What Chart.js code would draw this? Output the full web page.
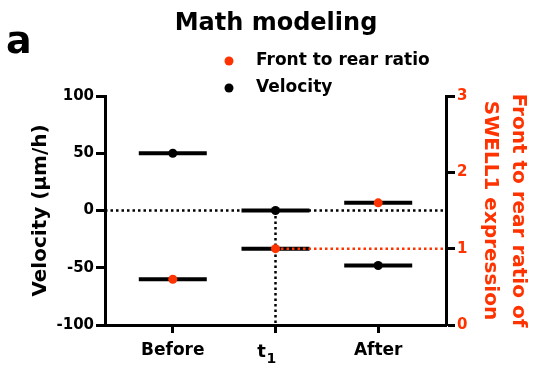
<!DOCTYPE html>
<html>
<head>
<meta charset="utf-8">
<script src="https://cdn.jsdelivr.net/npm/chart.js@4"></script>
<style>
  html, body { margin: 0; padding: 0; background: #fff; }
</style>
</head>
<body>
<canvas id="chart" width="533" height="369"></canvas>
<script>
"use strict";

// Data ("t_1" = t with subscript 1)
const categories = ["Before", "t_1", "After"];
const velocity = [50, 0, -48];          // um/h, left axis
const ratio = [0.6, 1.0, 1.6];          // front to rear ratio, right axis
const velocityTicks = [-100, -50, 0, 50, 100];
const ratioTicks = [0, 1, 2, 3];
const seriesNames = ["Front to rear ratio", "Velocity"];

// Reference (dotted) lines
const refVelocity = 0;
const refRatio = 1;
const refCategory = 1;

const RED = "#ff3300";
const FONT = "'DejaVu Sans', sans-serif";
const X_MIN = -0.66, X_MAX = 2.66;

const pts = (arr) => arr.map((v, i) => ({ x: i, y: v }));

// title, panel letter, legend and subscripted tick labels
const decorations = {
  id: "decorations",
  afterDraw(chart) {
    const ctx = chart.ctx;
    ctx.save();
    ctx.fillStyle = "#000";
    ctx.textBaseline = "alphabetic";
    ctx.textAlign = "left";
    ctx.font = "bold 38px " + FONT;
    ctx.fillText("a", 6, 53);
    ctx.textAlign = "center";
    ctx.font = "bold 24px " + FONT;
    ctx.fillText("Math modeling", 276, 30);

    ctx.textAlign = "left";
    ctx.textBaseline = "middle";
    ctx.font = "bold 17px " + FONT;
    const rows = [[seriesNames[0], RED, 61], [seriesNames[1], "#000", 88]];
    rows.forEach(([label, color, y]) => {
      ctx.fillStyle = color;
      ctx.beginPath();
      ctx.arc(229, y, 4.5, 0, Math.PI * 2);
      ctx.fill();
      ctx.fillStyle = "#000";
      ctx.fillText(label, 256, y);
    });

    // category labels with a subscript
    const xs = chart.scales.x;
    ctx.textBaseline = "alphabetic";
    categories.forEach((c, i) => {
      if (c.indexOf("_") < 0) return;
      const [base, sub] = c.split("_");
      ctx.font = "bold 18px " + FONT;
      const wb = ctx.measureText(base).width;
      ctx.font = "bold 14px " + FONT;
      const ws = ctx.measureText(sub).width;
      const x0 = xs.getPixelForValue(i) - 9 - (wb + ws) / 2;
      ctx.font = "bold 18px " + FONT;
      ctx.fillText(base, x0, 357);
      ctx.font = "bold 14px " + FONT;
      ctx.fillText(sub, x0 + wb + 0.5, 363);
    });
    ctx.restore();
  }
};

const ctx = document.getElementById("chart").getContext("2d");
new Chart(ctx, {
  type: "scatter",
  data: {
    datasets: [
      // dots on top
      {
        label: seriesNames[1], data: pts(velocity), yAxisID: "y", order: 1,
        pointStyle: "circle", pointRadius: 4.5, pointBorderWidth: 0,
        backgroundColor: "#000", borderColor: "#000"
      },
      {
        label: seriesNames[0], data: pts(ratio), yAxisID: "y1", order: 1,
        pointStyle: "circle", pointRadius: 4.5, pointBorderWidth: 0,
        backgroundColor: RED, borderColor: RED
      },
      // red dotted reference at ratio = 1
      {
        type: "line", data: [{ x: refCategory, y: refRatio }, { x: X_MAX, y: refRatio }],
        yAxisID: "y1", order: 3, borderColor: RED, borderWidth: 2.5,
        borderDash: [2.5, 3], pointRadius: 0, fill: false
      },
      // horizontal bars behind each dot
      {
        data: pts(velocity), yAxisID: "y", order: 4,
        pointStyle: "line", pointRadius: 34, pointBorderWidth: 4, borderColor: "#000"
      },
      {
        data: pts(ratio), yAxisID: "y1", order: 4,
        pointStyle: "line", pointRadius: 34, pointBorderWidth: 4, borderColor: "#000"
      },
      // black dotted references
      {
        type: "line", data: [{ x: X_MIN, y: refVelocity }, { x: X_MAX, y: refVelocity }],
        yAxisID: "y", order: 5, borderColor: "#000", borderWidth: 2.5,
        borderDash: [2.5, 3], pointRadius: 0, fill: false
      },
      {
        type: "line", data: [{ x: refCategory, y: refVelocity }, { x: refCategory, y: velocityTicks[0] }],
        yAxisID: "y", order: 5, borderColor: "#000", borderWidth: 2.5,
        borderDash: [2.5, 3], pointRadius: 0, fill: false
      }
    ]
  },
  options: {
    responsive: false,
    animation: false,
    events: [],
    layout: { padding: { top: 96, left: 0, right: 0, bottom: 0 } },
    plugins: { legend: { display: false }, tooltip: { enabled: false } },
    scales: {
      x: {
        type: "linear", min: X_MIN, max: X_MAX,
        afterBuildTicks: (s) => { s.ticks = categories.map((c, i) => ({ value: i })); },
        afterFit: (s) => { s.height = 44; },
        ticks: {
          callback: (v) => (categories[v].indexOf("_") < 0 ? categories[v] : ""),
          color: "#000", padding: 7, maxRotation: 0,
          font: { family: FONT, size: 17, weight: "bold" }
        },
        grid: { drawOnChartArea: false, tickLength: 8, tickWidth: 3, tickColor: "#000" },
        border: { display: true, width: 3, color: "#000" }
      },
      y: {
        position: "left", min: -100, max: 100,
        afterBuildTicks: (s) => { s.ticks = velocityTicks.map(v => ({ value: v })); },
        afterFit: (s) => { s.width = 105; },
        ticks: { color: "#000", padding: 2, font: { family: FONT, size: 15, weight: "bold" } },
        grid: { drawOnChartArea: false, tickLength: 9, tickWidth: 3, tickColor: "#000" },
        border: { display: true, width: 3, color: "#000" },
        title: {
          display: true, text: "Velocity (\u03bcm/h)", color: "#000",
          padding: { top: 29, bottom: 0 },
          font: { family: FONT, size: 20, weight: "bold", lineHeight: 1.2 }
        }
      },
      y1: {
        position: "right", min: 0, max: 3,
        afterBuildTicks: (s) => { s.ticks = ratioTicks.map(v => ({ value: v })); },
        afterFit: (s) => { s.width = 87; },
        ticks: { color: RED, padding: 2, font: { family: FONT, size: 15, weight: "bold" } },
        grid: { drawOnChartArea: false, tickLength: 9, tickWidth: 3, tickColor: "#000" },
        border: { display: true, width: 3, color: "#000" },
        title: {
          display: true, text: ["Front to rear ratio of", "SWELL1 expression"], color: RED,
          padding: { top: 1, bottom: 0 },
          font: { family: FONT, size: 20, weight: "bold", lineHeight: 1.4 }
        }
      }
    }
  },
  plugins: [decorations]
});
</script>
</body>
</html>
